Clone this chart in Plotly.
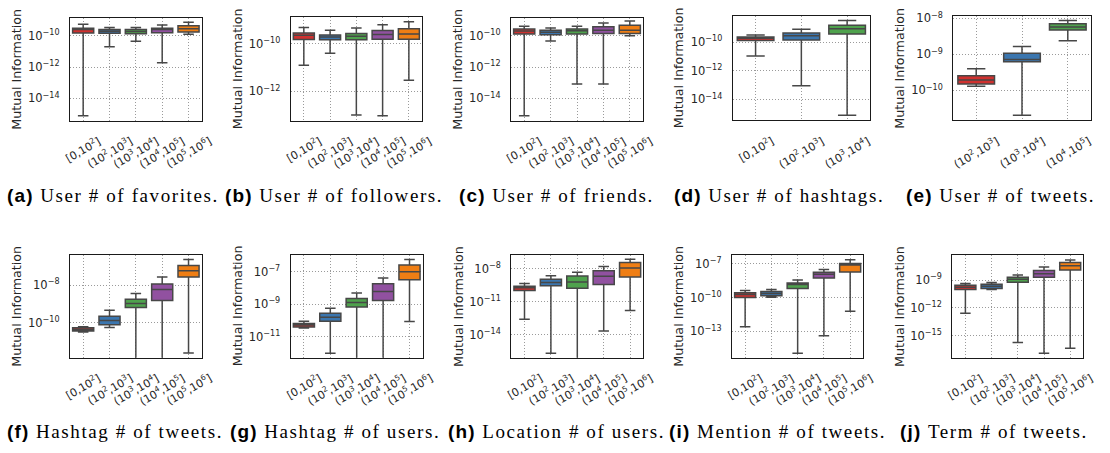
import plotly.graph_objects as go

W, H = 1110, 453

# Bin labels for the x axes (log-scaled count ranges)
BINS = [
    "[0,10<sup>2</sup>]",
    "(10<sup>2</sup>,10<sup>3</sup>]",
    "(10<sup>3</sup>,10<sup>4</sup>]",
    "(10<sup>4</sup>,10<sup>5</sup>]",
    "(10<sup>5</sup>,10<sup>6</sup>]",
]
COLORS = ["#d0312f", "#3b76af", "#4fa24d", "#9151a0", "#ef7e14"]

# Box statistics, stored as log10 of mutual information.
# lo / hi are the whisker ends, q1 / med / q3 the box.

# (a) User # of favorites
fav_lo = [-15.12, -10.70, -10.36, -11.73, -9.90]
fav_q1 = [-9.83, -9.85, -9.87, -9.81, -9.77]
fav_med = [-9.60, -9.71, -9.73, -9.60, -9.56]
fav_q3 = [-9.52, -9.60, -9.60, -9.52, -9.37]
fav_hi = [-9.26, -9.47, -9.47, -9.31, -9.14]

# (b) User # of followers
fol_lo = [-10.90, -10.40, -13.00, -13.03, -11.53]
fol_q1 = [-9.82, -9.83, -9.83, -9.81, -9.81]
fol_med = [-9.64, -9.71, -9.68, -9.61, -9.58]
fol_q3 = [-9.54, -9.63, -9.56, -9.44, -9.36]
fol_hi = [-9.31, -9.43, -9.33, -9.19, -9.07]

# (c) User # of friends
fri_lo = [-15.10, -10.34, -13.07, -13.07, -10.00]
fri_q1 = [-9.89, -9.94, -9.89, -9.85, -9.85]
fri_med = [-9.70, -9.77, -9.68, -9.64, -9.64]
fri_q3 = [-9.56, -9.64, -9.56, -9.43, -9.32]
fri_hi = [-9.39, -9.51, -9.39, -9.18, -9.05]

# (d) User # of hashtags
hsh_lo = [-10.97, -13.05, -15.11]
hsh_q1 = [-9.88, -9.84, -9.42]
hsh_med = [-9.72, -9.54, -9.05]
hsh_q3 = [-9.63, -9.35, -8.80]
hsh_hi = [-9.49, -9.08, -8.47]

# (e) User # of tweets
twt_lo = [-9.88, -10.69, -8.62]
twt_q1 = [-9.82, -9.20, -8.32]
twt_med = [-9.71, -9.14, -8.24]
twt_q3 = [-9.59, -8.97, -8.15]
twt_hi = [-9.40, -8.78, -8.06]

# (f) Hashtag # of tweets
htw_lo = [-10.49, -10.25, -12.50, -12.50, -11.61]
htw_q1 = [-10.44, -10.11, -9.19, -8.81, -7.56]
htw_med = [-10.35, -9.88, -8.97, -8.23, -7.23]
htw_q3 = [-10.26, -9.65, -8.75, -7.93, -6.95]
htw_hi = [-10.21, -9.33, -8.44, -7.56, -6.63]

# (g) Hashtag # of users
hus_lo = [-10.47, -12.02, -13.00, -13.00, -10.07]
hus_q1 = [-10.41, -10.05, -9.17, -8.77, -7.49]
hus_med = [-10.29, -9.80, -8.89, -8.22, -7.00]
hus_q3 = [-10.19, -9.56, -8.65, -7.75, -6.59]
hus_hi = [-10.05, -9.25, -8.32, -7.39, -6.25]

# (h) Location # of users
loc_lo = [-12.59, -15.68, -17.00, -13.67, -11.81]
loc_q1 = [-9.98, -9.56, -9.77, -9.44, -8.75]
loc_med = [-9.74, -9.26, -9.20, -8.69, -7.94]
loc_q3 = [-9.59, -8.96, -8.66, -8.18, -7.43]
loc_hi = [-9.35, -8.63, -8.33, -7.79, -7.13]

# (i) Mention # of tweets
men_lo = [-12.59, -9.96, -14.93, -13.38, -11.21]
men_q1 = [-9.99, -9.84, -9.19, -8.26, -7.73]
men_med = [-9.72, -9.63, -8.84, -7.94, -7.12]
men_q3 = [-9.58, -9.46, -8.70, -7.76, -6.97]
men_hi = [-9.37, -9.28, -8.43, -7.50, -6.65]

# (j) Term # of tweets
trm_lo = [-12.57, -10.00, -15.75, -16.89, -16.36]
trm_q1 = [-10.00, -9.89, -9.21, -8.68, -7.89]
trm_med = [-9.75, -9.64, -8.89, -8.29, -7.43]
trm_q3 = [-9.54, -9.43, -8.68, -7.93, -7.07]
trm_hi = [-9.36, -9.25, -8.43, -7.57, -6.79]

# letter, caption, labels, stats, plot box in px (left, top, right, bottom),
# y range (log10), y tick exponents, caption centre (x, y) in px
panels = [
    ("a", "User # of favorites.", BINS, (fav_lo, fav_q1, fav_med, fav_q3, fav_hi),
     (70, 12.7, 201.7, 117.3), (-15.45, -8.84), [-14, -12, -10], (113, 193)),
    ("b", "User # of followers.", BINS, (fol_lo, fol_q1, fol_med, fol_q3, fol_hi),
     (290.7, 12.3, 422, 117.3), (-13.25, -8.875), [-12, -10], (334, 193)),
    ("c", "User # of friends.", BINS, (fri_lo, fri_q1, fri_med, fri_q3, fri_hi),
     (511, 12.7, 643, 117.3), (-15.44, -8.836), [-14, -12, -10], (556, 193)),
    ("d", "User # of hashtags.", BINS[:3], (hsh_lo, hsh_q1, hsh_med, hsh_q3, hsh_hi),
     (732.7, 10.7, 870, 116.7), (-15.48, -8.127), [-14, -12, -10], (779, 193)),
    ("e", "User # of tweets.", BINS[1:4], (twt_lo, twt_q1, twt_med, twt_q3, twt_hi),
     (953.3, 10.7, 1090.7, 116.7), (-10.831, -7.922), [-10, -9, -8], (1000, 193)),
    ("f", "Hashtag # of tweets.", BINS, (htw_lo, htw_q1, htw_med, htw_q3, htw_hi),
     (70, 252.3, 201.7, 356.7), (-11.86, -6.368), [-10, -8], (115, 431)),
    ("g", "Hashtag # of users.", BINS, (hus_lo, hus_q1, hus_med, hus_q3, hus_hi),
     (290.7, 252.3, 422.7, 356.7), (-12.3, -5.944), [-11, -9, -7], (335, 431)),
    ("h", "Location # of users.", BINS, (loc_lo, loc_q1, loc_med, loc_q3, loc_hi),
     (511.3, 252.3, 643.3, 356.7), (-16.1, -6.71), [-14, -11, -8], (556, 431)),
    ("i", "Mention # of tweets.", BINS, (men_lo, men_q1, men_med, men_q3, men_hi),
     (732, 252.3, 863.3, 356.7), (-15.34, -6.18), [-13, -10, -7], (777, 431)),
    ("j", "Term # of tweets.", BINS, (trm_lo, trm_q1, trm_med, trm_q3, trm_hi),
     (952.3, 252.3, 1083.3, 356.7), (-17.39, -6.21), [-15, -12, -9], (994, 431)),
]

TXT = "#262626"
EDGE = "#474747"
GRID = "#9a9a9a"
SANS = "DejaVu Sans"

fig = go.Figure()
annotations = []
layout = {}

for k, (letter, caption, labels, stats, box, yr, yexp, cap) in enumerate(panels, start=1):
    lo, q1, med, q3, hi = stats
    left, top, right, bottom = box
    xname = "x" if k == 1 else f"x{k}"
    yname = "y" if k == 1 else f"y{k}"
    n = len(labels)

    for i in range(n):
        fig.add_trace(go.Box(
            x=[i],
            lowerfence=[10 ** lo[i]], q1=[10 ** q1[i]], median=[10 ** med[i]],
            q3=[10 ** q3[i]], upperfence=[10 ** hi[i]],
            xaxis=xname, yaxis=yname,
            fillcolor=COLORS[i], line=dict(color=EDGE, width=1.5),
            width=0.8, whiskerwidth=0.5, boxpoints=False,
            showlegend=False, hoverinfo="skip",
        ))

    ax_common = dict(
        showline=True, mirror=True, linecolor="#1a1a1a", linewidth=1.3,
        showgrid=True, gridcolor=GRID, griddash="1px,2px", gridwidth=1,
        zeroline=False,
    )
    layout["xaxis" if k == 1 else f"xaxis{k}"] = dict(
        ax_common, anchor=yname,
        domain=[left / W, right / W],
        range=[-0.5, n - 0.5], tickvals=list(range(n)),
        showticklabels=False, ticks="",
    )
    layout["yaxis" if k == 1 else f"yaxis{k}"] = dict(
        ax_common, anchor=xname, type="log",
        domain=[1 - bottom / H, 1 - top / H],
        range=list(yr),
        tickvals=[10.0 ** e for e in yexp],
        ticktext=[f"10<sup>\u2212{-e}</sup>" for e in yexp],
        ticks="outside", ticklen=7, tickcolor="rgba(0,0,0,0)",
        tickfont=dict(family=SANS, size=11.5, color=TXT),
    )

    # rotated bin labels under each box
    for i, lab in enumerate(labels):
        annotations.append(dict(
            x=i, xref=xname, y=1 - (bottom + 10) / H, yref="paper",
            text=lab, showarrow=False, textangle=-30,
            xanchor="center", yanchor="top",
            font=dict(family=SANS, size=11, color=TXT),
        ))

    # y axis title
    annotations.append(dict(
        x=(left - 53.5) / W, xref="paper", y=1 - (top + bottom) / 2 / H, yref="paper",
        text="Mutual Information", showarrow=False, textangle=-90,
        xanchor="center", yanchor="middle",
        font=dict(family=SANS, size=12.7, color=TXT),
    ))

    # sub-figure caption
    annotations.append(dict(
        x=cap[0] / W, xref="paper", y=1 - cap[1] / H, yref="paper",
        text=(f"<span style='font-family:Liberation Sans;letter-spacing:1.2px'>"
              f"<b>({letter})</b></span>"
              f"<span style='letter-spacing:1.6px'>\u00a0{caption}</span>"),
        showarrow=False, xanchor="center", yanchor="middle",
        font=dict(family="Liberation Serif", size=19, color="#000000"),
    ))

fig.update_layout(
    **layout,
    annotations=annotations,
    width=W, height=H,
    margin=dict(l=0, r=0, t=0, b=0),
    paper_bgcolor="white", plot_bgcolor="white",
    boxmode="overlay",
)

fig.write_html("out.html")
